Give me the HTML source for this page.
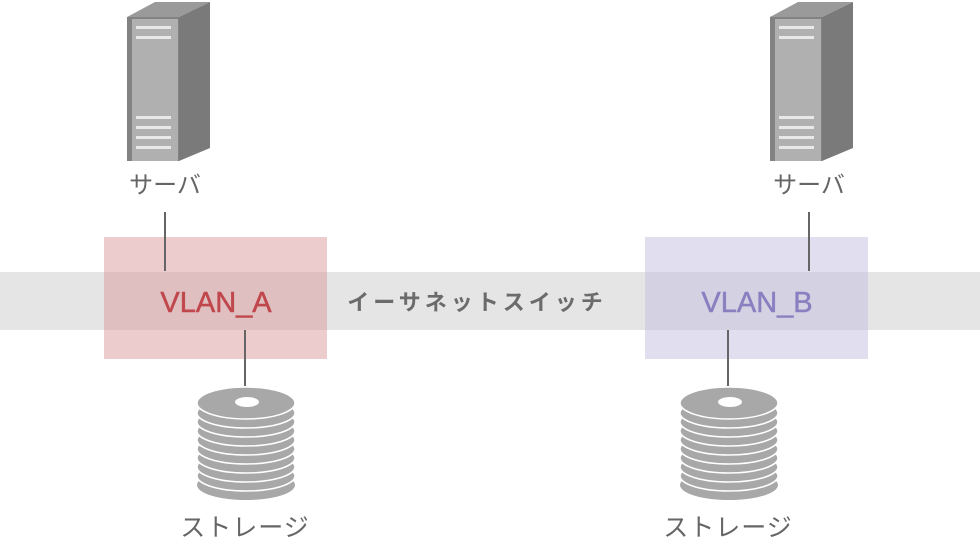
<!DOCTYPE html>
<html><head><meta charset="utf-8"><style>
html,body{margin:0;padding:0;background:#fff;}
svg{display:block;}
text{font-family:"Liberation Sans","Noto Sans CJK JP",sans-serif;}
</style></head><body>
<svg width="980" height="546" viewBox="0 0 980 546" xmlns="http://www.w3.org/2000/svg">
<defs>
<g id="server">
  <polygon points="127,17 155,2 210,2 179,17" fill="#9a9a9a"/>
  <polygon points="179,17 210,2 210,148 179,161" fill="#7a7a7a"/>
  <rect x="127" y="17" width="52" height="144" fill="#828282"/>
  <rect x="132" y="19" width="46" height="142" fill="#b0b0b0"/>
  <rect x="136" y="26" width="35" height="3" fill="#e8e8e8"/>
  <rect x="136" y="36" width="35" height="3" fill="#e8e8e8"/>
  <rect x="136" y="116" width="35" height="3" fill="#e8e8e8"/>
  <rect x="136" y="126" width="35" height="3" fill="#e8e8e8"/>
  <rect x="136" y="136" width="35" height="3" fill="#e8e8e8"/>
  <rect x="136" y="146" width="35" height="3" fill="#e8e8e8"/>
</g>
<g id="disk">
  <ellipse cx="246" cy="485" rx="49" ry="15" fill="#a8a8a8"/>
  <ellipse cx="246" cy="476" rx="49" ry="15" fill="#a8a8a8" stroke="#fff" stroke-width="1.5"/>
  <ellipse cx="246" cy="467" rx="49" ry="15" fill="#a8a8a8" stroke="#fff" stroke-width="1.5"/>
  <ellipse cx="246" cy="458" rx="49" ry="15" fill="#a8a8a8" stroke="#fff" stroke-width="1.5"/>
  <ellipse cx="246" cy="449" rx="49" ry="15" fill="#a8a8a8" stroke="#fff" stroke-width="1.5"/>
  <ellipse cx="246" cy="440" rx="49" ry="15" fill="#a8a8a8" stroke="#fff" stroke-width="1.5"/>
  <ellipse cx="246" cy="431" rx="49" ry="15" fill="#a8a8a8" stroke="#fff" stroke-width="1.5"/>
  <ellipse cx="246" cy="422" rx="49" ry="15" fill="#a8a8a8" stroke="#fff" stroke-width="1.5"/>
  <ellipse cx="246" cy="413" rx="49" ry="15" fill="#a8a8a8" stroke="#fff" stroke-width="1.5"/>
  <ellipse cx="246" cy="403" rx="49" ry="16" fill="#a8a8a8" stroke="#fff" stroke-width="1.5"/>
  <ellipse cx="247" cy="402" rx="12" ry="5" fill="#fff"/>
</g>
</defs>
<rect x="0" y="272" width="980" height="58" fill="#e5e5e5"/>
<rect x="104" y="237" width="223" height="122" fill="#d9999c" fill-opacity="0.5"/>
<rect x="645" y="237" width="223" height="122" fill="#c4bfe0" fill-opacity="0.5"/>
<line x1="165" y1="212" x2="165" y2="271" stroke="#666" stroke-width="2"/>
<line x1="245" y1="330" x2="245" y2="386" stroke="#666" stroke-width="2"/>
<line x1="809" y1="212" x2="809" y2="271" stroke="#666" stroke-width="2"/>
<line x1="728" y1="330" x2="728" y2="386" stroke="#666" stroke-width="2"/>
<use href="#server"/>
<use href="#server" transform="translate(643,0)"/>
<use href="#disk"/>
<use href="#disk" transform="translate(483,0)"/>
<text x="165" y="193" font-size="24" fill="#666" text-anchor="middle">サーバ</text>
<text x="809" y="193" font-size="24" fill="#666" text-anchor="middle">サーバ</text>
<text x="245" y="536" font-size="25" fill="#666" text-anchor="middle" letter-spacing="1">ストレージ</text>
<text x="728" y="536" font-size="25" fill="#666" text-anchor="middle" letter-spacing="1">ストレージ</text>
<text x="216" y="312" font-size="29" fill="#c0474c" text-anchor="middle" stroke="#c0474c" stroke-width="0.5">VLAN_A</text>
<text x="757" y="312" font-size="29" fill="#8a7fc0" text-anchor="middle" stroke="#8a7fc0" stroke-width="0.5">VLAN_B</text>
<text x="477" y="310" font-size="22" font-weight="bold" fill="#6b6b6b" text-anchor="middle" letter-spacing="4">イーサネットスイッチ</text>
</svg>
</body></html>
